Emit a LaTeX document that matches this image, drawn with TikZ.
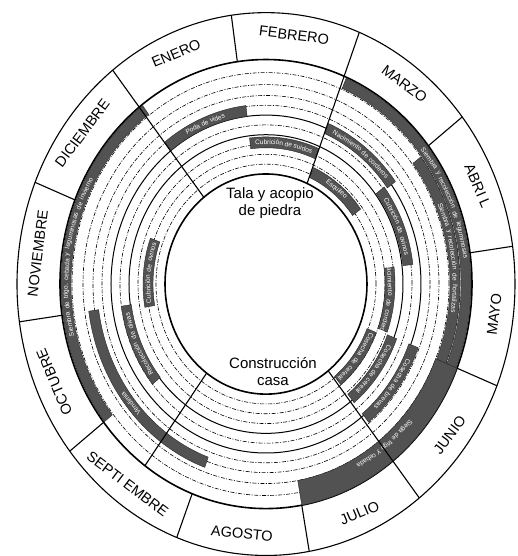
\documentclass[tikz,border=0pt]{standalone}
\usepackage{fontspec}
\setmainfont{Liberation Sans}

\newcommand{\barsize}{\fontsize{6.6}{7}\selectfont}
% dark band between two radii, from start angle to end angle
\newcommand{\barshape}[4]{%
	\path[Bar] ({#1}:{#3}) arc[start angle=#1, end angle=#2, radius={#3}]
		-- ({#2}:{#4}) arc[start angle=#2, end angle=#1, radius={#4}] -- cycle;
}
% words (word/width) set one by one along the band, tops outward
\newcommand{\barwords}[5]{%
	\xdef\arcsum{0}
	\foreach \w/\l in {#5} {
		\pgfmathsetmacro{\arcnext}{\arcsum+\l+1.83}
		\xdef\arcsum{\arcnext}
	}
	\pgfmathsetmacro{\arcstart}{(#1+#2)/2+0.5*(\arcsum-1.83)/#3*57.2958}
	\xdef\arcpos{\arcstart}
	\foreach \w/\l [count=\i] in {#5} {
		\pgfmathsetmacro{\wmid}{\arcpos-0.5*\l/#3*57.2958}
		\node[name=#4-\i, BarWord, rotate=\wmid-90] at (\wmid:#3) {\w};
		\pgfmathsetmacro{\arcnext}{\arcpos-(\l+1.83)/#3*57.2958}
		\xdef\arcpos{\arcnext}
	}
}
% activity: start angle, end angle (clockwise), radius, name, words
\newcommand{\activity}[5]{%
	\barshape{#1}{#2}{#3-5}{#3+5}
	\barwords{#1}{#2}{#3}{#4}{#5}
}

\begin{document}
\begin{tikzpicture}[x=1pt, y=1.09pt]
	\tikzstyle{Month} = [font=\fontsize{14.5}{15}\selectfont, inner sep=0pt]
	\tikzstyle{Title} = [font=\fontsize{15}{17}\selectfont, align=center, inner sep=0pt]
	\tikzstyle{BarWord} = [font=\barsize, text=white, inner sep=0pt]
	\tikzstyle{Ring} = [line width=1.6pt]
	\tikzstyle{Group} = [line width=1pt]
	\tikzstyle{Divider} = [line width=1.1pt]
	\tikzstyle{Track} = [line width=0.6pt, dash pattern=on 4pt off 1.5pt on 1pt off 1.5pt]
	\tikzstyle{Bar} = [fill=black!68, draw=black!85, line width=0.4pt]
	
	\useasboundingbox (-266,-249.5) rectangle (252,260.6);
	
	% tracks
	\foreach \r in {110,119,128,146,164,173,183,194}
		\draw[Track] (0,0) circle[radius=\r];
	\foreach \r in {137,155}
		\draw[Group] (0,0) circle[radius=\r];
	\draw[Ring] (0,0) circle[radius=101];
	\draw[Ring] (0,0) circle[radius=206];
	\draw[line width=1.1pt] (0,0) circle[radius=249];
	
	% activities
	\activity{67}{-22}{200}{leg}{Siembra/24.57, y/3.30, recolección/33.38, de/7.34, leguminosas/37.05}
	\activity{37}{-22}{189}{hue}{Siembra/24.57, y/3.30, recolección/33.38, de/7.34, hortalizas/28.24}
	\barshape{-22}{-80}{183}{206}
	\barwords{-22}{-80}{191}{sie}{Siega/16.88, de/7.34, trigo/12.84, y/3.30, cebada/21.65}
	\activity{218}{127}{200}{inv}{Siembra/24.57, de/7.34, {trigo,}/14.67, cebada/21.65, y/3.30, leguminosas/37.05, de/7.34, invierno/23.11}
	\activity{250}{188}{174}{ven}{Vendimia/27.51}
	\activity{219}{188}{141}{oli}{Recolección/35.94, de/7.34, olivas/16.87}
	\activity{190}{160}{118}{cub1}{Cubrición/27.87, de/7.34, ovinos/19.07}
	\activity{128}{97}{160}{pod}{Poda/15.41, de/7.34, vides/15.40}
	\activity{97}{67}{130}{cub2}{Cubrición/27.87, de/7.34, suidos/19.07}
	\activity{67}{36}{155}{nac1}{Nacimiento/33.01, de/7.34, corderos/25.67}
	\activity{66}{36}{112}{esq}{Esquileo/25.31}
	\activity{37}{7}{143}{cub3}{Cubrición/27.87, de/7.34, ovinos/19.07}
	\activity{7}{-20}{124}{nac2}{Nacimiento/33.01, de/7.34, corderos/25.67}
	\activity{-22}{-51}{114}{cos1}{Cosecha/26.04, de/7.34, cereal/17.97}
	\activity{-21}{-51}{135}{cos2}{Cosecha/26.04, de/7.34, cereal/17.97}
	\activity{-21}{-51}{158}{cos3}{Cosecha/26.04, de/7.34, brevas/19.81}
	
	% sector lines
	\coordinate (tala1) at (128:101);
	\coordinate (tala2) at (128:249);
	\coordinate (tala3) at (66:101);
	\coordinate (tala4) at (68:249);
	\coordinate (casa1) at (-126:101);
	\coordinate (casa2) at (-126:206);
	\coordinate (casa3) at (-52:101);
	\coordinate (casa4) at (-52:249);
	\draw[Divider] (tala1) -- (tala2);
	\draw[Divider] (tala3) -- (tala4);
	\draw[Divider] (casa1) -- (casa2);
	\draw[Divider] (casa3) -- (casa4);
	
	% month boxes
	\foreach \a in {98,38,8,-22,-80,-111,-142,-172,158}
		\draw[Divider] (\a:206) -- (\a:249);
	
	\node[name=ene, Month, rotate=23] at (113:230) {ENERO};
	\node[name=feb, Month, rotate=-7] at (83:230) {FEBRERO};
	\node[name=mar, Month, rotate=-37] at (53:230) {MARZO};
	\node[name=abr, Month, rotate=-67] at (23:230) {ABRI L};
	\node[name=may, Month, rotate=83] at (-7:230) {MAYO};
	\node[name=jun, Month, rotate=53] at (-37:230) {JUNIO};
	\node[name=jul, Month, rotate=23] at (-66:230) {JULIO};
	\node[name=ago, Month, rotate=-6] at (-96:230) {AGOSTO};
	\node[name=sep, Month, rotate=-37] at (-127:230) {SEPTI EMBRE};
	\node[name=oct, Month, rotate=113] at (-157:230) {OCTUBRE};
	\node[name=nov, Month, rotate=83] at (173:230) {NOVIEMBRE};
	\node[name=dic, Month, rotate=53] at (143:230) {DICIEMBRE};
	
	\node[name=tala, Title] at (4,74.3) {Tala y acopio\\de piedra};
	\node[name=casa, Title] at (7,-80.7) {Construcción\\casa};
\end{tikzpicture}
\end{document}
